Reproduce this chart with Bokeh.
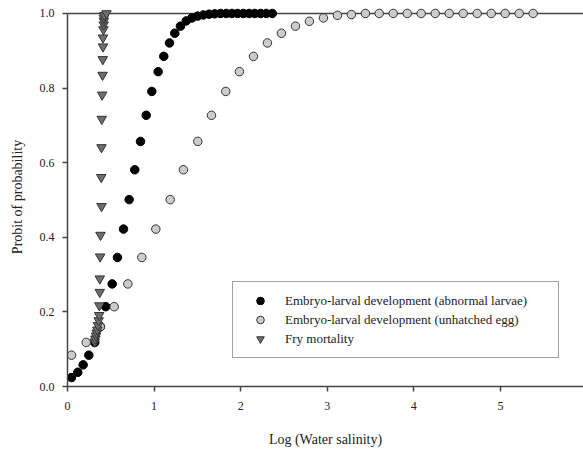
from bokeh.plotting import figure
from bokeh.models import Span, Legend, LegendItem, FixedTicker, Range1d
from bokeh.embed import file_html
from bokeh.resources import INLINE

# Embryo-larval development (abnormal larvae)
larvae_x = [0.046, 0.119, 0.181, 0.246, 0.315, 0.380, 0.442, 0.516, 0.577, 0.647,
            0.712, 0.777, 0.843, 0.909, 0.974, 1.047, 1.112, 1.178, 1.239, 1.305,
            1.371, 1.437, 1.503, 1.569, 1.635, 1.701, 1.767, 1.833, 1.899, 1.965,
            2.031, 2.097, 2.163, 2.229, 2.295, 2.365]
larvae_y = [0.024, 0.038, 0.058, 0.084, 0.118, 0.160, 0.214, 0.275, 0.346, 0.422,
            0.501, 0.581, 0.657, 0.727, 0.791, 0.844, 0.885, 0.921, 0.947, 0.966,
            0.980, 0.988, 0.993, 0.996, 0.998, 0.999, 1.0, 1.0, 1.0, 1.0,
            1.0, 1.0, 1.0, 1.0, 1.0, 1.0]

# Embryo-larval development (unhatched egg)
egg_x = [0.046, 0.216, 0.378, 0.539, 0.697, 0.858, 1.020, 1.186, 1.339, 1.505,
         1.663, 1.828, 1.986, 2.148, 2.309, 2.471, 2.633, 2.794, 2.956, 3.118,
         3.279, 3.441, 3.600, 3.762, 3.924, 4.085, 4.247, 4.409, 4.570, 4.732,
         4.894, 5.055, 5.217, 5.378]
egg_y = [0.084, 0.118, 0.160, 0.214, 0.275, 0.346, 0.422, 0.501, 0.581, 0.657,
         0.727, 0.791, 0.844, 0.885, 0.921, 0.947, 0.966, 0.979, 0.988, 0.995,
         0.997, 1.0, 1.0, 1.0, 1.0, 1.0, 1.0, 1.0, 1.0, 1.0,
         1.0, 1.0, 1.0, 1.0]

# Fry mortality
fry_x = [0.315, 0.322, 0.330, 0.337, 0.345, 0.352, 0.360, 0.366, 0.368, 0.373,
         0.373, 0.377, 0.381, 0.393, 0.390, 0.393, 0.396, 0.400, 0.405, 0.408,
         0.410, 0.410, 0.415, 0.418, 0.420, 0.420, 0.425, 0.450]
fry_y = [0.120, 0.128, 0.136, 0.144, 0.152, 0.164, 0.177, 0.191, 0.217, 0.253,
         0.289, 0.348, 0.406, 0.483, 0.561, 0.641, 0.717, 0.782, 0.835, 0.877,
         0.911, 0.935, 0.957, 0.970, 0.980, 0.988, 0.995, 1.0]

series_names = ["Embryo-larval development (abnormal larvae)",
                "Embryo-larval development (unhatched egg)",
                "Fry mortality"]
x_ticks = [0, 1, 2, 3, 4, 5]
y_ticks = [0.0, 0.2, 0.4, 0.6, 0.8, 1.0]
x_title = "Log (Water salinity)"
y_title = "Probit of probability"

SERIF = "Liberation Serif"
AX = "#444444"

p = figure(width=583, height=449, output_backend="svg", toolbar_location=None,
           x_range=Range1d(0, 5.96), y_range=Range1d(0, 1.016),
           min_border_left=67, min_border_right=0, min_border_top=7,
           min_border_bottom=61)
p.outline_line_color = None
p.grid.visible = False

top = Span(location=1.0, dimension="width", line_color=AX, line_width=1.5,
           level="underlay")
p.add_layout(top)

r1 = p.scatter(larvae_x, larvae_y, marker="circle", size=8.5,
               fill_color="black", line_color="black", line_width=1)
r2 = p.scatter(egg_x, egg_y, marker="circle", size=8.5,
               fill_color="#cccccc", line_color="#333333", line_width=1)
r3 = p.scatter(fry_x, fry_y, marker="inverted_triangle", size=9.5,
               fill_color="#6e6e6e", line_color="#333333", line_width=1)

for ax in (p.xaxis[0], p.yaxis[0]):
    ax.axis_line_color = AX
    ax.axis_line_width = 1.5
    ax.major_tick_line_color = AX
    ax.major_tick_line_width = 1.5
    ax.major_tick_in = 0
    ax.major_tick_out = 5
    ax.minor_tick_line_color = None
    ax.major_label_text_font = SERIF
    ax.major_label_text_font_size = "12px"
    ax.major_label_text_color = "#222222"
    ax.axis_label_text_font = SERIF
    ax.axis_label_text_font_size = "14px"
    ax.axis_label_text_font_style = "normal"
    ax.axis_label_text_color = "#222222"

p.xaxis.ticker = FixedTicker(ticks=x_ticks)
p.yaxis.ticker = FixedTicker(ticks=y_ticks)
p.yaxis.major_label_overrides = {v: f"{v:.1f}" for v in y_ticks}
p.yaxis.bounds = (0, 1)
p.xaxis.axis_label = x_title
p.yaxis.axis_label = y_title
p.xaxis.major_label_standoff = 10
p.xaxis.axis_label_standoff = 19
p.yaxis.major_label_standoff = 8
p.yaxis.axis_label_standoff = 12

legend = Legend(items=[LegendItem(label=series_names[0], renderers=[r1]),
                       LegendItem(label=series_names[1], renderers=[r2]),
                       LegendItem(label=series_names[2], renderers=[r3])],
                location=(165, 28))
legend.label_text_font = SERIF
legend.label_text_font_size = "13px"
legend.label_text_color = "#222222"
legend.label_height = 19
legend.glyph_height = 19
legend.glyph_width = 36
legend.label_width = 264
legend.label_standoff = 7
legend.spacing = 0
legend.padding = 9
legend.margin = 0
legend.border_line_color = AX
legend.border_line_width = 1.5
legend.background_fill_alpha = 1
p.add_layout(legend)

open("out.html", "w").write(file_html(p, INLINE))
